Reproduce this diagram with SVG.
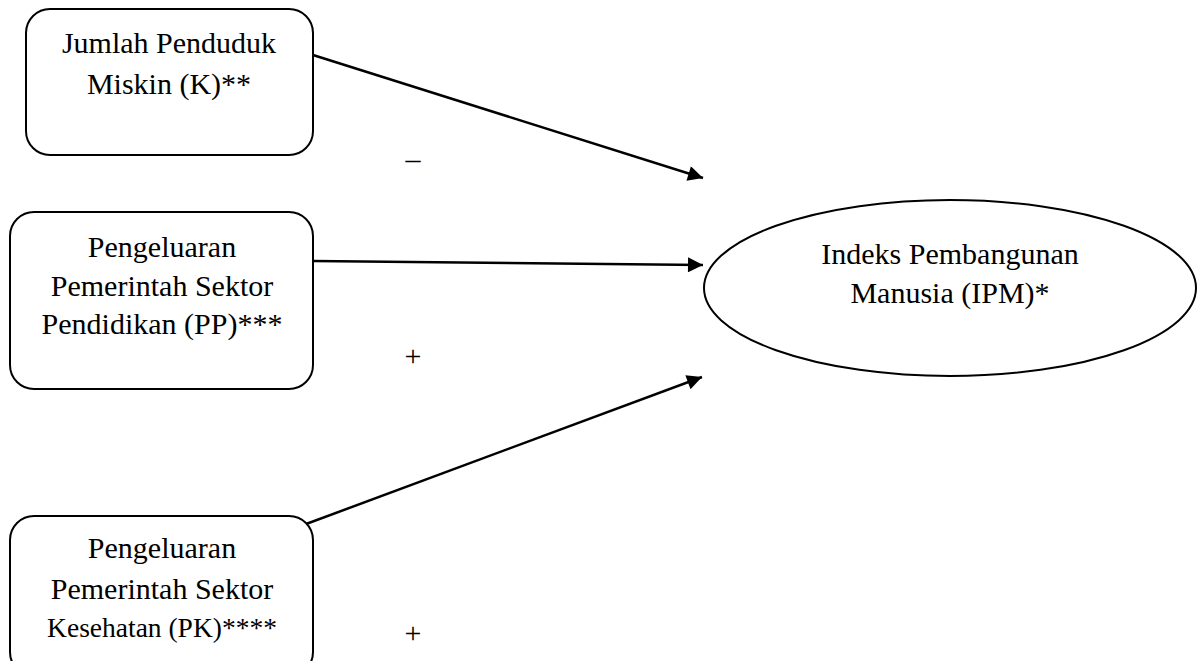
<svg xmlns="http://www.w3.org/2000/svg" width="1201" height="661" viewBox="0 0 1201 661">
<defs>
<style>
.box{fill:#fff;stroke:#000;stroke-width:2}
text{font-family:'Liberation Serif','Times New Roman',Times,serif;fill:#000;text-anchor:middle}
.t{font-size:30px}
.s{font-size:27.5px}
.c{stroke:#000;stroke-width:2.5;fill:none;marker-end:url(#ah)}
.lbl{font-size:30px}
</style>
<marker id="ah" viewBox="0 0 10 10" refX="10" refY="5" markerWidth="6.5" markerHeight="6" orient="auto" markerUnits="strokeWidth">
<path d="M0,0 L10,5 L0,10 z" fill="#000"/>
</marker>
</defs>
<g id="connectors">
<line class="c" x1="313" y1="55" x2="703" y2="178"/>
<line class="c" x1="313" y1="261" x2="703" y2="265"/>
<line class="c" x1="298" y1="527" x2="702" y2="377"/>
</g>
<g id="labels">
<text class="lbl" x="413" y="169">–</text>
<text class="lbl" x="413" y="366">+</text>
<text class="lbl" x="413" y="643">+</text>
</g>
<g id="node-k">
<rect class="box" x="26" y="9" width="287" height="146" rx="24"/>
<text class="t" x="169" y="53">Jumlah Penduduk</text>
<text class="t" x="169" y="94">Miskin (K)**</text>
</g>
<g id="node-pp">
<rect class="box" x="10" y="212" width="303" height="177" rx="24"/>
<text class="t" x="162" y="257">Pengeluaran</text>
<text class="t" x="162" y="296">Pemerintah Sektor</text>
<text class="t" x="162" y="334">Pendidikan (PP)***</text>
</g>
<g id="node-pk">
<rect class="box" x="10" y="516" width="303" height="160" rx="24"/>
<text class="t" x="162" y="558">Pengeluaran</text>
<text class="t" x="162" y="599">Pemerintah Sektor</text>
<text class="s" x="162" y="637">Kesehatan (PK)****</text>
</g>
<g id="node-ipm">
<ellipse class="box" cx="950" cy="288" rx="246" ry="88"/>
<text class="t" x="950" y="264">Indeks Pembangunan</text>
<text class="t" x="950" y="303">Manusia (IPM)*</text>
</g>
</svg>
